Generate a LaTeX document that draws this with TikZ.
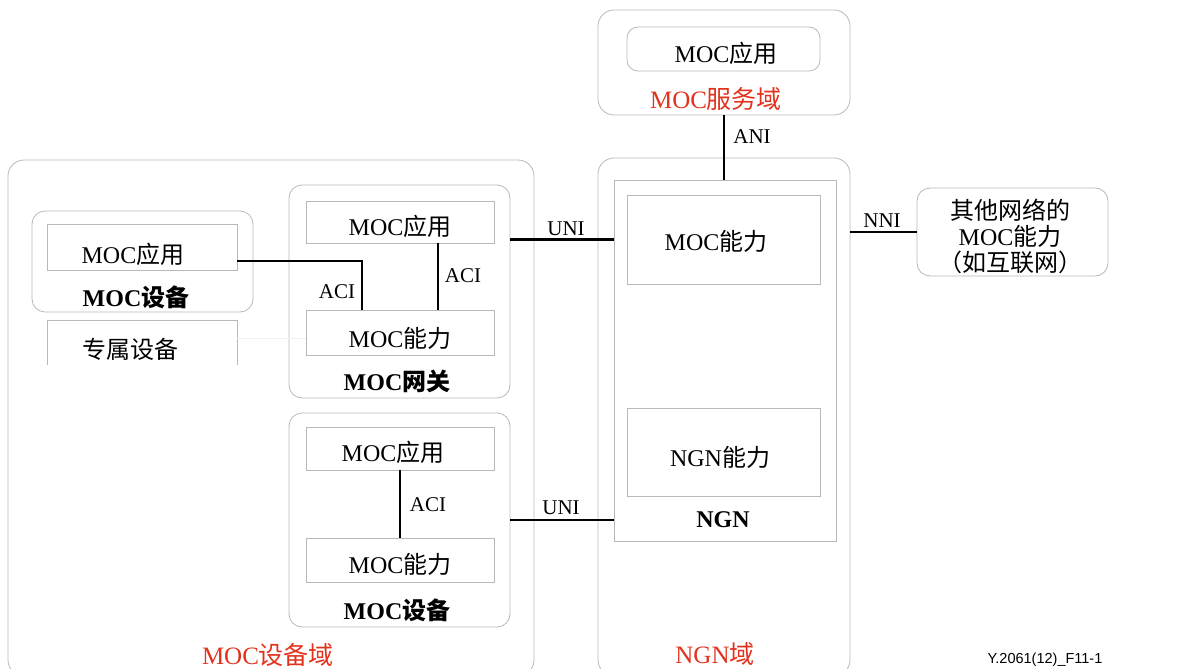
\documentclass[tikz,border=0pt]{standalone}
\usepackage{fontspec}
\setmainfont{Liberation Serif}
\newfontfamily\cjk{Noto Sans CJK SC}
\newfontfamily\footsans{Liberation Sans}
\newcommand{\zh}[1]{{\cjk #1}}
\definecolor{boxgray}{HTML}{B8B8B8}
\definecolor{domred}{HTML}{E2321E}
\begin{document}
\begin{tikzpicture}[x=1pt,y=-1pt,
  every node/.style={inner sep=0pt,outer sep=0pt},
  dom/.style={draw=boxgray,line width=0.8pt,rounded corners=16pt},
  rbox/.style={draw=boxgray,line width=0.8pt,rounded corners=13pt},
  sbox/.style={draw=boxgray,line width=0.8pt},
  conn/.style={draw=black,line width=2.6pt},
  faint/.style={draw=black!6,line width=0.8pt},
  txt/.style={font=\fontsize{24}{27}\selectfont},
  btxt/.style={font=\fontsize{24}{27}\selectfont\bfseries},
  rtxt/.style={font=\fontsize{25}{28}\selectfont,text=domred},
  itxt/.style={font=\fontsize{21}{24}\selectfont},
  foot/.style={font=\fontsize{14.5}{17}\selectfont\footsans}]
\useasboundingbox (0,0) rectangle (1183,669);
\clip (0,0) rectangle (1183,669);
% domains
\node[dom,minimum width=526pt,minimum height=516pt] (devdom) at (271,418) {};
\node[dom,minimum width=252pt,minimum height=518pt] (ngndom) at (724,417) {};
\node[dom,minimum width=252pt,minimum height=105pt] (svc) at (724,62.5) {};
% service domain
\node[rbox,rounded corners=11pt,minimum width=193pt,minimum height=44pt] (svcapp) at (723.5,49) {};
\node[txt] (tsvcapp) at (726,53) {MOC\zh{应用}};
\node[rtxt] (tsvc) at (716,99) {MOC\zh{服务域}};
% NGN
\node[sbox,minimum width=222pt,minimum height=361pt] (ngn) at (725,360.5) {};
\node[sbox,minimum width=193pt,minimum height=89pt] (ngnmoc) at (723.5,239.5) {};
\node[sbox,minimum width=193pt,minimum height=88pt] (ngncap) at (723.5,452) {};
\node[txt] (tngnmoc) at (716,241) {MOC\zh{能力}};
\node[txt] (tngncap) at (720,457) {NGN\zh{能力}};
\node[btxt] (tngn) at (723,520) {NGN};
\node[rtxt] (tngndom) at (715,654) {NGN\zh{域}};
% other network
\node[rbox,minimum width=191pt,minimum height=88pt] (other) at (1012.5,232) {};
\node[txt,align=center,font=\fontsize{24}{26}\selectfont] (tother) at (1010,236) {\zh{其他网络的}\\MOC\zh{能力}\\\zh{（如互联网）}};
% left device
\node[rbox,minimum width=221pt,minimum height=101pt] (dev1) at (142.5,261.5) {};
\node[sbox,minimum width=190pt,minimum height=46pt] (dev1app) at (142,247) {};
\node[txt] (tdev1app) at (133,254) {MOC\zh{应用}};
\node[btxt] (tdev1) at (136,297) {MOC\zh{设备}};
\node[minimum width=190pt,minimum height=45pt] (excl) at (142,342.5) {};
\draw[sbox] (excl.south west) -- (excl.north west) -- (excl.north east) -- (excl.south east);
\node[txt] (texcl) at (130,349) {\zh{专属设备}};
% gateway
\node[rbox,minimum width=221pt,minimum height=213pt] (gw) at (399.5,291.5) {};
\node[sbox,minimum width=188pt,minimum height=42pt] (gwapp) at (400,222) {};
\node[sbox,minimum width=188pt,minimum height=45pt] (gwcap) at (400,332.5) {};
\node[txt] (tgwapp) at (400,226) {MOC\zh{应用}};
\node[txt] (tgwcap) at (400,338) {MOC\zh{能力}};
\node[btxt] (tgw) at (397,381) {MOC\zh{网关}};
% bottom device
\node[rbox,minimum width=221pt,minimum height=214pt] (dev2) at (399.5,520) {};
\node[sbox,minimum width=188pt,minimum height=43pt] (dev2app) at (400,448.5) {};
\node[sbox,minimum width=188pt,minimum height=44pt] (dev2cap) at (400,560) {};
\node[txt] (tdev2app) at (393,452) {MOC\zh{应用}};
\node[txt] (tdev2cap) at (400,564) {MOC\zh{能力}};
\node[btxt] (tdev2) at (397,610) {MOC\zh{设备}};
\node[rtxt] (tdevdom) at (268,655) {MOC\zh{设备域}};
% connectors
\draw[faint] ([yshift=4pt]excl.east) -- ([yshift=4pt]excl.east -| gwcap.west);
\draw[conn] ([yshift=-14pt]dev1app.east) -| ([xshift=-38pt]gwcap.north);
\draw[conn] ([xshift=38pt]gwapp.south) -- ([xshift=38pt]gwcap.north);
\draw[conn] (dev2app.south) -- (dev2cap.north);
\draw[conn] (ngnmoc.west -| gw.east) -- (ngnmoc.west -| ngn.west);
\draw[conn] (dev2.east) -- (dev2.east -| ngn.west);
\draw[conn] (svc.south) -- (svc.south |- ngn.north);
\draw[conn] (other.west -| ngndom.east) -- (other.west);
% interface labels
\node[itxt] (aci1) at (337,292) {ACI};
\node[itxt] (aci2) at (463,276) {ACI};
\node[itxt] (aci3) at (428,505) {ACI};
\node[itxt] (uni1) at (566,229) {UNI};
\node[itxt] (uni2) at (561,508) {UNI};
\node[itxt] (ani) at (752,137) {ANI};
\node[itxt] (nni) at (882,221) {NNI};
\node[foot] (ref) at (1045,660) {Y.2061(12)\_F11-1};
\end{tikzpicture}
\end{document}
